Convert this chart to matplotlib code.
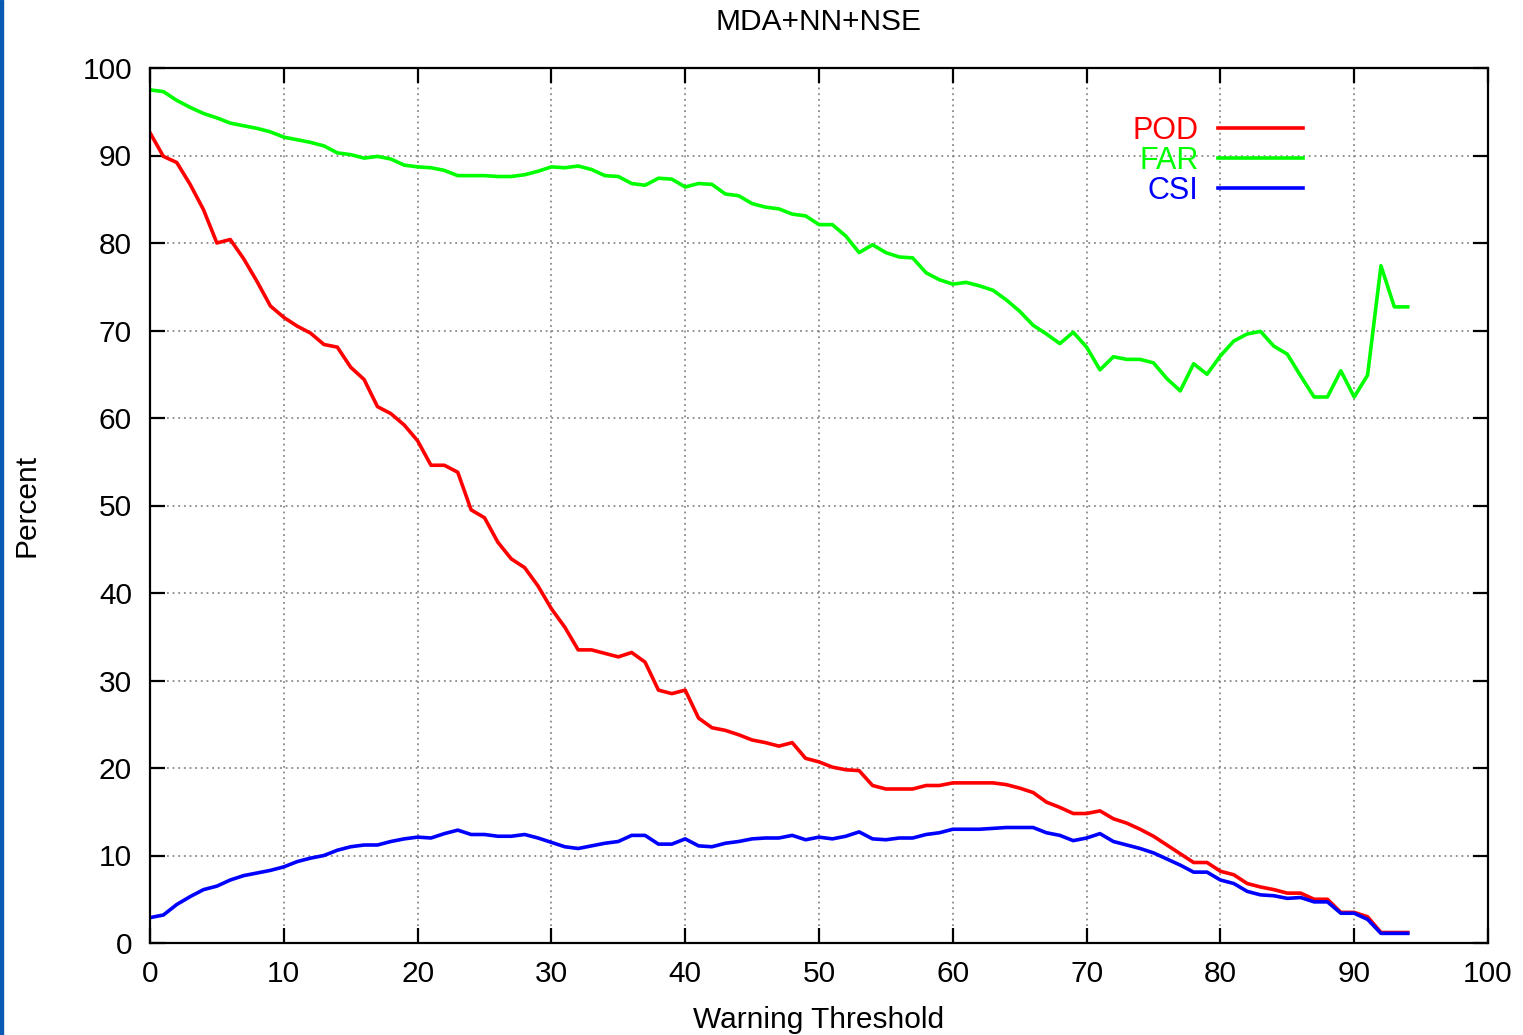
import matplotlib
matplotlib.use("Agg")
import matplotlib.pyplot as plt
from matplotlib.patches import Rectangle

plt.rcParams['font.family'] = ['Liberation Sans', 'DejaVu Sans']

# Data
threshold = list(range(0, 95))

pod = [92.6, 89.9, 89.2, 86.7, 83.8, 80.0, 80.4, 78.2, 75.6, 72.8,
       71.5, 70.5, 69.7, 68.4, 68.1, 65.8, 64.4, 61.3, 60.5, 59.2,
       57.4, 54.6, 54.6, 53.8, 49.5, 48.6, 45.8, 43.9, 42.9, 40.8,
       38.2, 36.1, 33.5, 33.5, 33.1, 32.7, 33.2, 32.1, 28.9, 28.5,
       28.9, 25.7, 24.6, 24.3, 23.8, 23.2, 22.9, 22.5, 22.9, 21.1,
       20.7, 20.1, 19.8, 19.7, 18.0, 17.6, 17.6, 17.6, 18.0, 18.0,
       18.3, 18.3, 18.3, 18.3, 18.1, 17.7, 17.2, 16.1, 15.5, 14.8,
       14.8, 15.1, 14.2, 13.7, 13.0, 12.2, 11.2, 10.2, 9.2, 9.2,
       8.2, 7.8, 6.8, 6.4, 6.1, 5.7, 5.7, 5.0, 5.0, 3.5,
       3.5, 3.0, 1.2, 1.2, 1.2]

far = [97.5, 97.3, 96.3, 95.5, 94.8, 94.3, 93.7, 93.4, 93.1, 92.7,
       92.1, 91.8, 91.5, 91.1, 90.3, 90.1, 89.7, 89.9, 89.6, 88.9,
       88.7, 88.6, 88.3, 87.7, 87.7, 87.7, 87.6, 87.6, 87.8, 88.2,
       88.7, 88.6, 88.8, 88.4, 87.7, 87.6, 86.8, 86.6, 87.4, 87.3,
       86.4, 86.8, 86.7, 85.6, 85.4, 84.5, 84.1, 83.9, 83.3, 83.1,
       82.1, 82.1, 80.8, 78.9, 79.8, 78.9, 78.4, 78.3, 76.6, 75.8,
       75.3, 75.5, 75.1, 74.6, 73.5, 72.2, 70.6, 69.6, 68.5, 69.8,
       68.1, 65.5, 67.0, 66.7, 66.7, 66.3, 64.5, 63.1, 66.2, 65.0,
       67.1, 68.8, 69.6, 69.9, 68.2, 67.3, 64.8, 62.4, 62.4, 65.4,
       62.4, 64.9, 77.4, 72.7, 72.7]

csi = [2.9, 3.2, 4.4, 5.3, 6.1, 6.5, 7.2, 7.7, 8.0, 8.3,
       8.7, 9.3, 9.7, 10.0, 10.6, 11.0, 11.2, 11.2, 11.6, 11.9,
       12.1, 12.0, 12.5, 12.9, 12.4, 12.4, 12.2, 12.2, 12.4, 12.0,
       11.5, 11.0, 10.8, 11.1, 11.4, 11.6, 12.3, 12.3, 11.3, 11.3,
       11.9, 11.1, 11.0, 11.4, 11.6, 11.9, 12.0, 12.0, 12.3, 11.8,
       12.1, 11.9, 12.2, 12.7, 11.9, 11.8, 12.0, 12.0, 12.4, 12.6,
       13.0, 13.0, 13.0, 13.1, 13.2, 13.2, 13.2, 12.6, 12.3, 11.7,
       12.0, 12.5, 11.6, 11.2, 10.8, 10.3, 9.6, 8.9, 8.1, 8.1,
       7.2, 6.8, 5.9, 5.5, 5.4, 5.1, 5.2, 4.7, 4.7, 3.4,
       3.4, 2.7, 1.1, 1.1, 1.1]

fig = plt.figure(figsize=(15.23, 10.35), dpi=100)
ax = fig.add_axes([150 / 1523, 1 - 943 / 1035, 1338 / 1523, 875 / 1035])

ax.plot(threshold, pod, color='#ff0000', lw=2.6, label='POD')
ax.plot(threshold, far, color='#00ff00', lw=2.6, label='FAR')
ax.plot(threshold, csi, color='#0000ff', lw=2.6, label='CSI')

ax.set_xlim(0, 100)
ax.set_ylim(0, 100)
ax.set_xticks(range(0, 101, 10))
ax.set_yticks(range(0, 101, 10))
ax.grid(True, color='#777777', linestyle=(0, (1.2, 2.5)), lw=1.1)
ax.tick_params(direction='in', length=10.5, width=1.6, top=True, right=True,
               labelsize=21.5)
ax.tick_params(axis='x', pad=12.5)
ax.tick_params(axis='y', pad=13)
for s in ax.spines.values():
    s.set_linewidth(1.6)

ax.set_title("MDA+NN+NSE", fontsize=21.5, pad=27)
ax.set_xlabel("Warning Threshold", fontsize=21.5, labelpad=13)
ax.set_ylabel("Percent", fontsize=21.5, labelpad=30)

leg = ax.legend(loc='upper right', bbox_to_anchor=(0.882, 0.977), frameon=False,
                markerfirst=False, labelcolor='linecolor', fontsize=22,
                handlelength=2.78, handletextpad=0.62, labelspacing=0.0)

# blue strip at left border of the original image
fig.patches.append(Rectangle((0, 0), 3 / 1523, 1, transform=fig.transFigure,
                             color='#0a5ab4', zorder=5))

fig.savefig("out.png", dpi=100)
